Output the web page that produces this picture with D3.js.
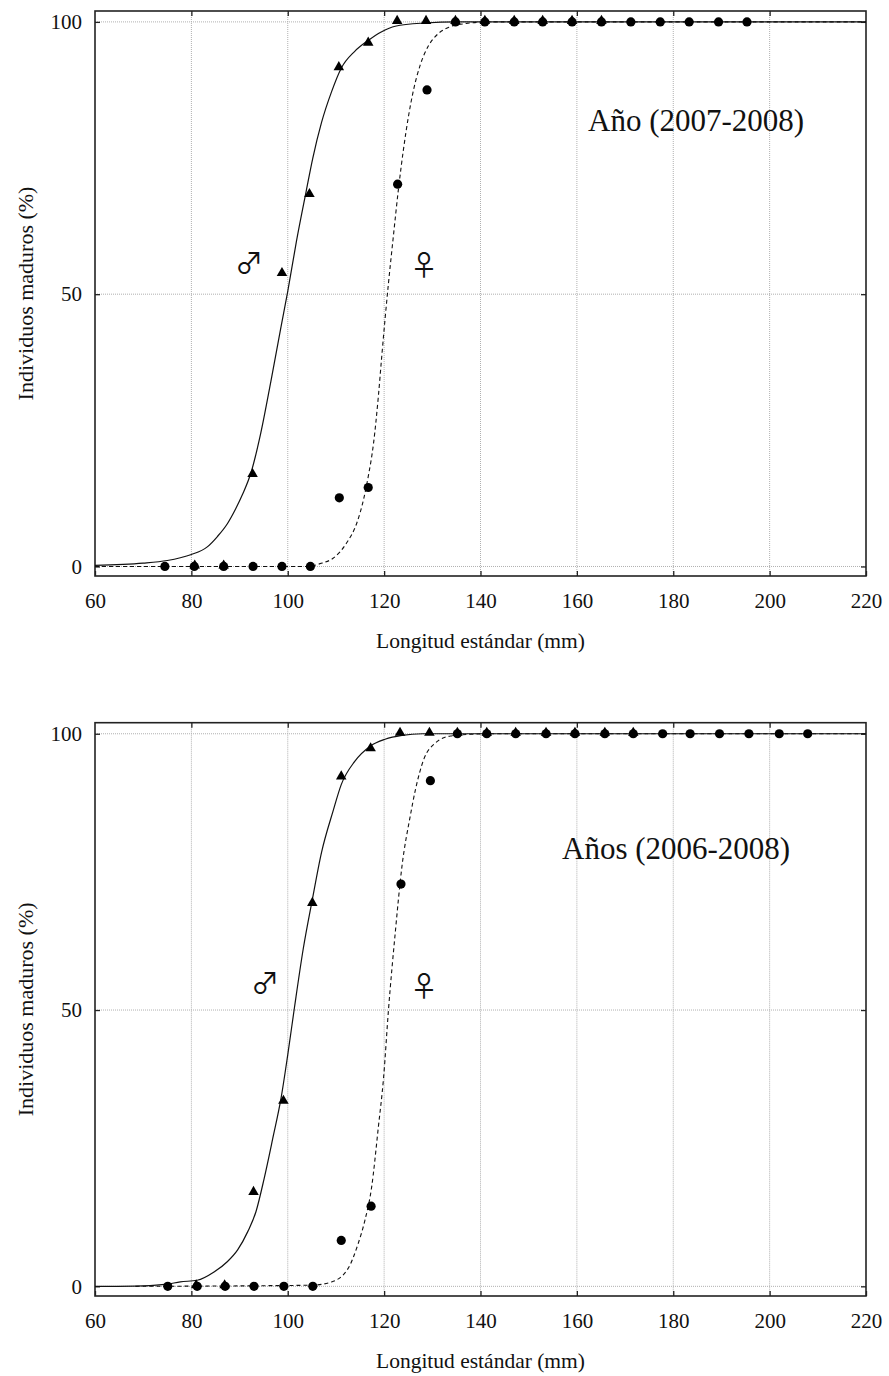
<!DOCTYPE html>
<html>
<head>
<meta charset="utf-8">
<script src="https://cdn.jsdelivr.net/npm/d3@7"></script>
<style>
  html, body { margin: 0; padding: 0; background: #fff; }
  svg { display: block; }
  svg text { font-family: "Liberation Serif", "Times New Roman", serif; fill: #111; }
</style>
</head>
<body>
<svg id="chart" width="889" height="1376"></svg>
<script>
// ---------- data ----------
const xTicks = [60, 80, 100, 120, 140, 160, 180, 200, 220];
const yTicks = [0, 50, 100];
const xTitle = "Longitud estándar (mm)";
const yTitle = "Individuos maduros (%)";
const panelTitles = ["Año (2007-2008)", "Años (2006-2008)"];
const maleSymbol = "\u2642\uFE0E";
const femaleSymbol = "\u2640\uFE0E";

// Panel 1 (2007-2008): observed points
const p1MaleX = [80.7, 86.7, 92.7, 98.8, 104.5, 110.6, 116.7, 122.7, 128.7, 134.8, 140.9, 147.0, 152.9, 159.0, 165.1];
const p1MaleY = [0, 0, 16.8, 53.7, 68.2, 91.5, 96.0, 100, 100, 100, 100, 100, 100, 100, 100];
const p1FemX = [74.5, 80.6, 86.7, 92.8, 98.8, 104.7, 110.7, 116.7, 122.8, 128.9, 134.8, 140.9, 147.0, 152.9, 159.0, 165.1, 171.2, 177.3, 183.3, 189.4, 195.3];
const p1FemY = [0, 0, 0, 0, 0, 0, 12.6, 14.5, 70.2, 87.5, 100, 100, 100, 100, 100, 100, 100, 100, 100, 100, 100];
// Panel 1 fitted curves
const p1MaleCurveX = [60, 70, 75, 77.7, 80, 83.3, 85.4, 87.5, 89.2, 90.6, 92.4, 94.4, 96.5, 98.6, 100.0, 101.8, 103.8, 105.2, 107.0, 109.1, 111.1, 113.9, 116.7, 119.5, 122.3, 128.5, 135, 220];
const p1MaleCurveY = [0.2, 0.6, 1.1, 1.6, 2.2, 3.6, 5.5, 7.9, 10.6, 13.2, 17.3, 24.5, 34.0, 44.0, 50.5, 59.7, 68.8, 75.0, 81.5, 87.2, 91.5, 94.6, 96.6, 98.2, 99.2, 99.8, 100, 100];
const p1FemCurveX = [60, 104, 107.0, 109.4, 112.2, 114.3, 115.7, 116.7, 117.8, 118.8, 119.5, 120.2, 120.9, 121.9, 123.0, 124.0, 125.1, 126.1, 127.5, 129.2, 131.3, 133.4, 137, 142, 220];
const p1FemCurveY = [0, 0, 0.6, 1.5, 4.3, 7.9, 12.2, 16.5, 22.6, 31.2, 38.5, 45.5, 52.0, 60.5, 69.5, 76.5, 82.9, 87.5, 92.1, 95.6, 97.9, 99.0, 99.7, 100, 100];

// Panel 2 (2006-2008): observed points
const p2MaleX = [81.0, 86.9, 92.9, 99.1, 105.1, 111.1, 117.2, 123.3, 129.4, 135.2, 141.3, 147.3, 153.6, 159.6, 165.8, 171.7];
const p2MaleY = [0, 0, 16.9, 33.4, 69.2, 92.1, 97.2, 100, 100, 100, 100, 100, 100, 100, 100, 100];
const p2FemX = [75.1, 81.2, 87.0, 93.0, 99.2, 105.2, 111.1, 117.3, 123.5, 129.6, 135.2, 141.3, 147.3, 153.6, 159.6, 165.8, 171.7, 177.8, 183.5, 189.6, 195.7, 202.0, 207.9];
const p2FemY = [0, 0, 0, 0, 0, 0, 8.3, 14.5, 72.8, 91.5, 100, 100, 100, 100, 100, 100, 100, 100, 100, 100, 100, 100, 100];
// Panel 2 fitted curves
const p2MaleCurveX = [60, 70, 75, 77.7, 81.2, 84.7, 87.5, 89.6, 91.7, 93.4, 95.1, 96.9, 98.6, 100.0, 101.4, 103.2, 105.1, 107.0, 109.4, 111.1, 113.9, 117.2, 120.2, 123.7, 128, 220];
const p2MaleCurveY = [0, 0.1, 0.4, 0.8, 1.1, 2.6, 4.5, 6.6, 9.9, 13.5, 19.5, 26.8, 34.0, 41.9, 50.5, 61.0, 70.0, 78.5, 86.0, 90.8, 95.0, 97.8, 99.0, 99.7, 100, 100];
const p2FemCurveX = [68.4, 104.9, 109.1, 112.5, 114.6, 116.0, 117.4, 118.8, 119.9, 120.9, 122.3, 123.7, 125.4, 126.5, 128.2, 130.6, 133.8, 138, 142, 220];
const p2FemCurveY = [0, 0.2, 0.8, 3.2, 7.7, 11.9, 17.9, 28.8, 37.9, 50.0, 63.9, 76.0, 85.0, 89.9, 95.3, 98.3, 99.6, 99.9, 100, 100];

const panels = [
  { title: panelTitles[0], maleX: p1MaleX, maleY: p1MaleY, femX: p1FemX, femY: p1FemY,
    mcX: p1MaleCurveX, mcY: p1MaleCurveY, fcX: p1FemCurveX, fcY: p1FemCurveY },
  { title: panelTitles[1], maleX: p2MaleX, maleY: p2MaleY, femX: p2FemX, femY: p2FemY,
    mcX: p2MaleCurveX, mcY: p2MaleCurveY, fcX: p2FemCurveX, fcY: p2FemCurveY }
];

// ---------- layout ----------
const layout = [
  { top: 11, bottom: 576, titleX: 588, titleY: 131, maleSym: [249, 274], femSym: [424, 276] },
  { top: 722.7, bottom: 1296, titleX: 562, titleY: 859, maleSym: [265, 994], femSym: [424, 997] }
];
const left = 95, right = 866;
const SERIF = '"Liberation Serif", "Times New Roman", serif';

const svg = d3.select("#chart");
svg.append("rect").attr("width", 889).attr("height", 1376).attr("fill", "#fff");

panels.forEach((p, i) => {
  const L = layout[i];
  const x = d3.scaleLinear().domain([60, 220]).range([left, right]);
  const y = d3.scaleLinear().domain([-1.75, 102]).range([L.bottom, L.top]);
  const g = svg.append("g");

  // grid
  g.append("g").selectAll("line").data(xTicks.slice(1, -1)).join("line")
    .attr("x1", d => x(d)).attr("x2", d => x(d)).attr("y1", L.top).attr("y2", L.bottom)
    .attr("stroke", "#b0b0b0").attr("stroke-width", 1).attr("stroke-dasharray", "1,1");
  g.append("g").selectAll("line").data(yTicks).join("line")
    .attr("x1", left).attr("x2", right).attr("y1", d => y(d)).attr("y2", d => y(d))
    .attr("stroke", "#b0b0b0").attr("stroke-width", 1).attr("stroke-dasharray", "1,1");

  // axes with inward ticks
  const styleAxis = (sel) => {
    sel.attr("font-family", SERIF).attr("font-size", 21);
    sel.select(".domain").remove();
    sel.selectAll("line").attr("stroke", "#222").attr("stroke-width", 1.3);
    sel.selectAll("text").attr("fill", "#111").style("font-family", SERIF).style("font-size", "21px");
  };
  g.append("g").attr("transform", `translate(0,${L.bottom})`)
    .call(d3.axisBottom(x).tickValues(xTicks).tickSizeInner(-5).tickSizeOuter(0).tickPadding(17))
    .call(styleAxis);
  g.append("g").attr("transform", `translate(0,${L.top})`)
    .call(d3.axisTop(x).tickValues(xTicks.slice(1, -1)).tickSizeInner(-5).tickSizeOuter(0).tickFormat(""))
    .call(styleAxis);
  g.append("g").attr("transform", `translate(${left},0)`)
    .call(d3.axisLeft(y).tickValues(yTicks).tickSizeInner(-5).tickSizeOuter(0).tickPadding(13))
    .call(styleAxis);
  g.append("g").attr("transform", `translate(${right},0)`)
    .call(d3.axisRight(y).tickValues(yTicks).tickSizeInner(-5).tickSizeOuter(0).tickFormat(""))
    .call(styleAxis);

  // frame
  g.append("rect").attr("x", left).attr("y", L.top).attr("width", right - left).attr("height", L.bottom - L.top)
    .attr("fill", "none").attr("stroke", "#222").attr("stroke-width", 1.6);

  // curves
  const clip = `clip${i}`;
  svg.append("clipPath").attr("id", clip).append("rect")
    .attr("x", left).attr("y", L.top).attr("width", right - left).attr("height", L.bottom - L.top);
  const line = d3.line().x(d => x(d[0])).y(d => y(d[1])).curve(d3.curveMonotoneX);
  g.append("path").datum(p.fcX.map((v, k) => [v, p.fcY[k]]))
    .attr("d", line).attr("fill", "none").attr("stroke", "#111").attr("stroke-width", 1.1)
    .attr("stroke-dasharray", "4,3").attr("clip-path", `url(#${clip})`);
  g.append("path").datum(p.mcX.map((v, k) => [v, p.mcY[k]]))
    .attr("d", line).attr("fill", "none").attr("stroke", "#111").attr("stroke-width", 1.2)
    .attr("clip-path", `url(#${clip})`);

  // markers
  const tri = d3.symbol().type(d3.symbolTriangle).size(48);
  g.append("g").selectAll("path").data(p.maleX.map((v, k) => [v, p.maleY[k]])).join("path")
    .attr("d", tri).attr("transform", d => `translate(${x(d[0])},${y(d[1]) - 1})`).attr("fill", "#000");
  g.append("g").selectAll("circle").data(p.femX.map((v, k) => [v, p.femY[k]])).join("circle")
    .attr("cx", d => x(d[0])).attr("cy", d => y(d[1])).attr("r", 4.6).attr("fill", "#000");

  // labels
  g.append("text").attr("x", L.titleX).attr("y", L.titleY).style("font-size", "31px").text(p.title);
  g.append("text").attr("x", L.maleSym[0]).attr("y", L.maleSym[1]).attr("text-anchor", "middle")
    .style("font-family", '"Noto Sans CJK JP", "DejaVu Sans", sans-serif').style("font-size", "28px")
    .attr("fill", "#111").text(maleSymbol);
  g.append("text").attr("x", L.femSym[0]).attr("y", L.femSym[1]).attr("text-anchor", "middle")
    .style("font-family", '"Noto Sans CJK JP", "DejaVu Sans", sans-serif').style("font-size", "28px")
    .attr("fill", "#111").text(femaleSymbol);

  g.append("text").attr("x", (left + right) / 2).attr("y", L.bottom + 72).attr("text-anchor", "middle")
    .style("font-size", "21.5px").text(xTitle);
  g.append("text").attr("transform", `translate(33,${(L.top + L.bottom) / 2}) rotate(-90)`)
    .attr("text-anchor", "middle").style("font-size", "22px").text(yTitle);
});
</script>
</body>
</html>
